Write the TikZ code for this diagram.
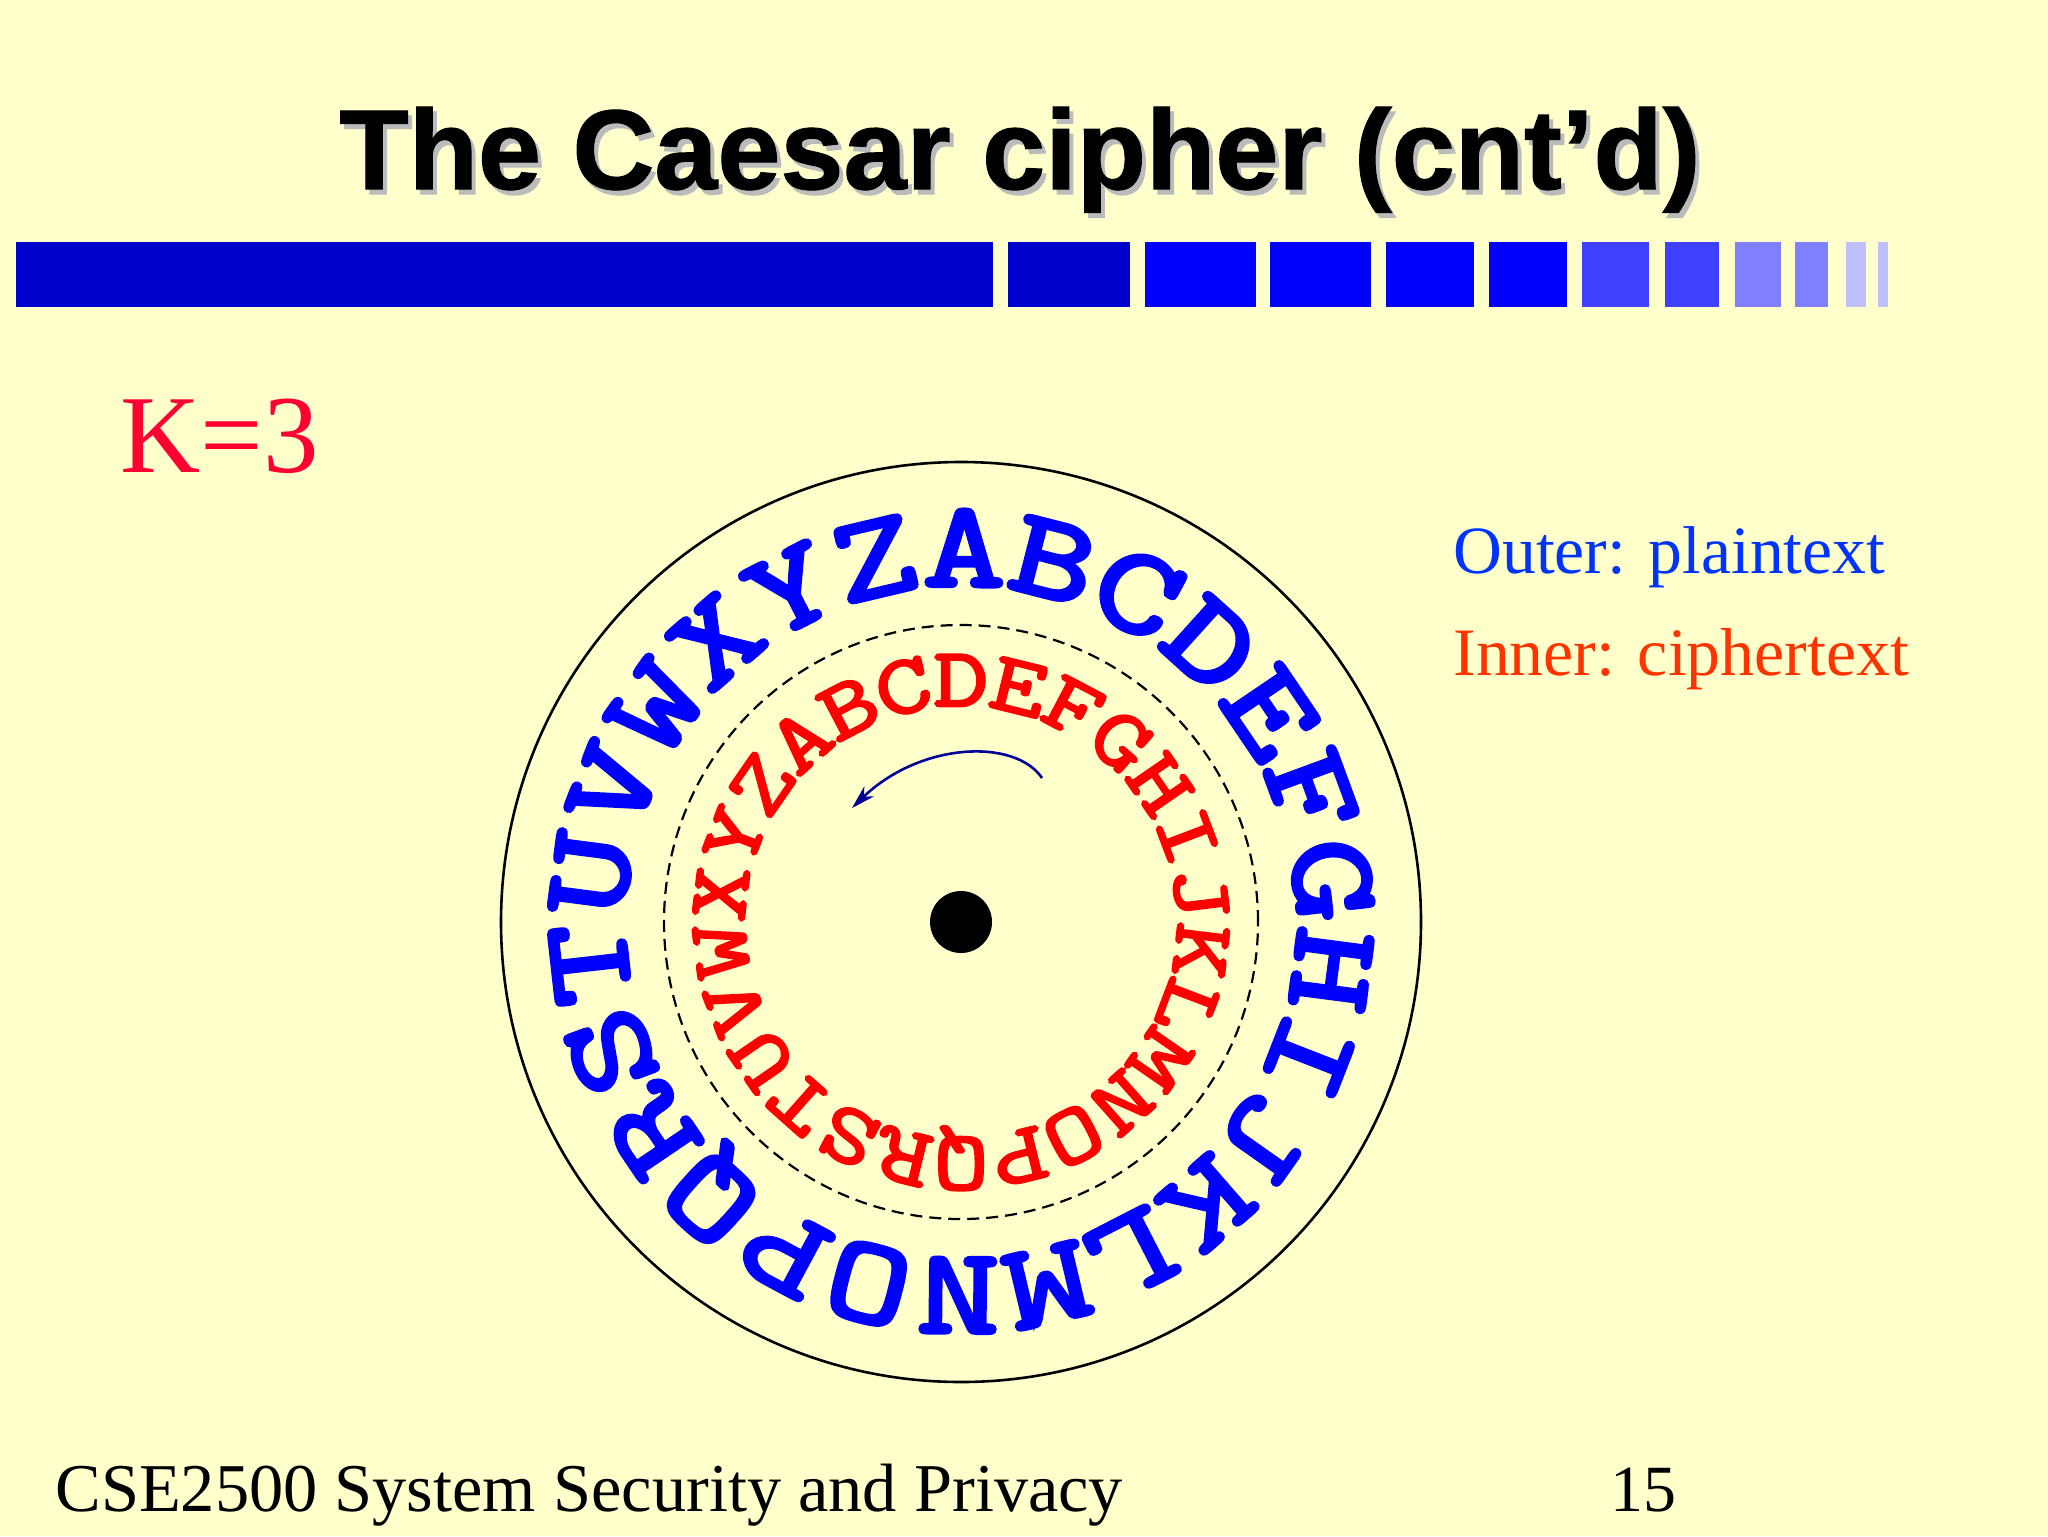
\documentclass[tikz,border=0pt]{standalone}
\usepackage{fontspec}
\usepackage{xcolor}
\setmainfont{Liberation Serif}
\newfontfamily\titlefont{Liberation Sans Bold}[FakeBold=1,Ligatures=TeX]
\newfontfamily\ringfont{Latin Modern Mono}[FakeBold=3.8,FakeStretch=1.32]
\newfontfamily\innerringfont{Latin Modern Mono}[FakeBold=3,FakeStretch=1.28]
\definecolor{slidebg}{HTML}{FFFFCC}
\definecolor{barA}{HTML}{0000CC}
\definecolor{barB}{HTML}{0000FF}
\definecolor{barC}{HTML}{4040FF}
\definecolor{barD}{HTML}{8080FF}
\definecolor{barE}{HTML}{C0C0FF}
\definecolor{shadowgrey}{HTML}{BBBBBB}
\definecolor{keyred}{HTML}{FF0033}
\definecolor{plainblue}{HTML}{0033FF}
\definecolor{cipherred}{HTML}{FF3300}
\definecolor{arrowblue}{HTML}{000099}
\usetikzlibrary{arrows.meta}
\tikzset{
  px/.style={x=0.5pt,y=-0.5pt},
  serifnode/.style={inner sep=0pt,anchor=base west},
  outerletter/.style={inner sep=0pt,anchor=base,text=blue,font=\ringfont\fontsize{61}{61}\selectfont},
  innerletter/.style={inner sep=0pt,anchor=base,text=red,font=\innerringfont\fontsize{42}{42}\selectfont},
  titletext/.style={inner sep=0pt,anchor=base,font=\titlefont\fontsize{56.7}{56.7}\selectfont},
}
\begin{document}
\begin{tikzpicture}[px]
\useasboundingbox (0,0) rectangle (2048,1536);
\fill[slidebg] (0,0) rectangle (2048,1536);
% title
\node[titletext,text=shadowgrey] (titleshadow) at (1024,194) {The Caesar cipher (cnt’d)};
\node[titletext,text=black] (title) at (1020,189) {The Caesar cipher (cnt’d)};
% bar
\fill[barA] (16,242) rectangle (993,307);
\fill[barA] (1008,242) rectangle (1130,307);
\fill[barB] (1145,242) rectangle (1256,307);
\fill[barB] (1270,242) rectangle (1371,307);
\fill[barB] (1386,242) rectangle (1474,307);
\fill[barB] (1489,242) rectangle (1567,307);
\fill[barC] (1582,242) rectangle (1649,307);
\fill[barC] (1665,242) rectangle (1719,307);
\fill[barD] (1735,242) rectangle (1781,307);
\fill[barD] (1795,242) rectangle (1828,307);
\fill[barE] (1846,242) rectangle (1866,307);
\fill[barE] (1878,242) rectangle (1888,307);
% texts
\node[serifnode,text=keyred,font=\fontsize{55.5}{55.5}\selectfont] (key) at (120,472) {K=3};
\node[serifnode,text=plainblue,font=\fontsize{33.8}{33.8}\selectfont] (outerlabel) at (1453,573) {Outer: plaintext};
\node[serifnode,text=cipherred,font=\fontsize{33.9}{33.9}\selectfont] (innerlabel) at (1453,675) {Inner: ciphertext};
\node[serifnode,text=black,font=\fontsize{34.2}{34.2}\selectfont] (footer) at (55,1511) {CSE2500 System Security and Privacy};
\node[serifnode,text=black,font=\fontsize{33}{33}\selectfont] (pagenum) at (1610,1511) {15};
% disc
\coordinate (hub) at (961,922);
\draw[black,line width=1.3pt] (hub) circle[radius=230pt];
\draw[black,line width=1.1pt,dash pattern=on 6pt off 3.5pt] (hub) circle[radius=148.5pt];
\fill[black] (hub) circle[radius=15.5pt];
% letters
\foreach \ch [count=\i from 0] in {A,B,C,D,E,F,G,H,I,J,K,L,M,N,O,P,Q,R,S,T,U,V,W,X,Y,Z}{
  \pgfmathsetmacro{\aout}{0.5+\i*360/26}
  \node[outerletter,rotate=-\aout] (outer\ch) at ({961+336*sin(\aout)},{922-336*cos(\aout)}) {\ch};
  \pgfmathsetmacro{\ain}{(\i-3)*360/26}
  \node[innerletter,rotate=-\ain] (inner\ch) at ({961+216*sin(\ain)},{922-216*cos(\ain)}) {\ch};
}
% arrow
\coordinate (arrowstart) at (1042,778);
\coordinate (arrowend) at (852,808);
\draw[arrowblue,line width=1.3pt,-{Stealth[length=12pt,width=7pt]}] (arrowstart) .. controls (1015,738) and (920,742) .. (arrowend);
\end{tikzpicture}
\end{document}
